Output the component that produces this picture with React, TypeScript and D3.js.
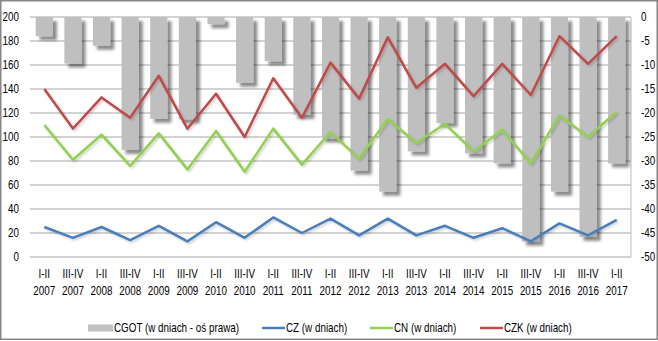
import type { ReactNode } from "react"
import { scaleBand, scaleLinear, line } from "d3"

const PERIODS = ["I-II", "III-IV", "I-II", "III-IV", "I-II", "III-IV", "I-II", "III-IV", "I-II", "III-IV", "I-II", "III-IV", "I-II", "III-IV", "I-II", "III-IV", "I-II", "III-IV", "I-II", "III-IV", "I-II"]
const YEARS = ["2007", "2007", "2008", "2008", "2009", "2009", "2010", "2010", "2011", "2011", "2012", "2012", "2013", "2013", "2014", "2014", "2015", "2015", "2016", "2016", "2017"]

// CGOT on the right axis (negative days)
const CGOT = [-4, -9.7, -6, -27.7, -21.2, -21.3, -1.5, -13.7, -9.2, -20.4, -25.3, -32, -36.4, -28, -22.1, -28.4, -30.5, -46.8, -36.4, -45.8, -30.5]
const CZ = [25, 16, 25, 14, 26, 13, 29, 16, 33, 20, 32, 18, 32, 18, 26, 16, 24, 13, 28, 18, 31]
const CN = [110, 81, 102, 76, 103, 73, 105, 71, 107, 77, 104, 82, 115, 95, 111, 88, 106, 78, 118, 100, 121]
const CZK = [140, 107, 133, 116, 151, 107, 136, 100, 149, 116, 162, 132, 183, 141, 161, 134, 161, 135, 184, 161, 184]

const LEFT_TICKS = [0, 20, 40, 60, 80, 100, 120, 140, 160, 180, 200]
const RIGHT_TICKS = [0, -5, -10, -15, -20, -25, -30, -35, -40, -45, -50]

const W = 658
const H = 341
const FONT = "'Liberation Sans', Arial, sans-serif"

const margin = { top: 17, right: 27, bottom: 84, left: 30 }

// Liberation Sans squeezed horizontally, close to the narrow font of the original
function NText({ x, y, anchor = "start", children }: { x: number; y: number; anchor?: "start" | "middle" | "end"; children: ReactNode }) {
  return (
    <text transform={`translate(${x},${y}) scale(0.82,1)`} textAnchor={anchor} dy="0.35em" fontSize={12} fill="#000">
      {children}
    </text>
  )
}

export default function App() {
  const innerW = W - margin.left - margin.right
  const innerH = H - margin.top - margin.bottom

  const keys = PERIODS.map((_, i) => String(i))
  const x = scaleBand().domain(keys).range([margin.left, margin.left + innerW]).paddingInner(0.4).paddingOuter(0.2)
  const yL = scaleLinear().domain([0, 200]).range([margin.top + innerH, margin.top])
  const yR = scaleLinear().domain([-50, 0]).range([margin.top + innerH, margin.top])

  const cx = (i: number) => x(String(i))! + x.bandwidth() / 2
  const mkLine = line<number>().x((_, i) => cx(i)).y((d) => yL(d))

  const series = [
    { name: "CZ (w dniach)", data: CZ, color: "#4a7ebb" },
    { name: "CN (w dniach)", data: CN, color: "#92d050" },
    { name: "CZK (w dniach)", data: CZK, color: "#be4b48" },
  ]

  const legendY = 328

  return (
    <svg
      width={W}
      height={H}
      style={{ position: "absolute", left: 0, top: 0, background: "#fff" }}
      fontFamily={FONT}
    >
      <defs>
        <filter id="barShadow" x="-30%" y="-10%" width="160%" height="130%">
          <feDropShadow dx="4" dy="4" stdDeviation="1.8" floodColor="#000" floodOpacity="0.45" />
        </filter>
        <filter id="lineShadow" x="-5%" y="-20%" width="110%" height="140%">
          <feDropShadow dx="1.5" dy="1.5" stdDeviation="1" floodColor="#000" floodOpacity="0.2" />
        </filter>
      </defs>

      <rect x={0.75} y={0.75} width={W - 1.5} height={H - 2.5} fill="#fff" stroke="#868686" strokeWidth={1.5} />

      {/* grid */}
      {LEFT_TICKS.map((t) => (
        <line key={t} x1={margin.left} x2={margin.left + innerW} y1={yL(t)} y2={yL(t)} stroke="#a6a6a6" strokeWidth={1} />
      ))}
      <line x1={margin.left + innerW} x2={margin.left + innerW} y1={margin.top} y2={margin.top + innerH} stroke="#bfbfbf" strokeWidth={1} />

      {/* bars */}
      <g filter="url(#barShadow)">
        {CGOT.map((v, i) => (
          <rect key={i} x={x(String(i))} y={yR(0)} width={x.bandwidth()} height={yR(v) - yR(0)} fill="#bfbfbf" />
        ))}
      </g>

      {/* lines */}
      {series.map((s) => (
        <path key={s.name} d={mkLine(s.data)!} fill="none" stroke={s.color} strokeWidth={2.5} strokeLinejoin="round" filter="url(#lineShadow)" />
      ))}

      {/* left axis labels */}
      {LEFT_TICKS.map((t) => (
        <NText key={t} x={19} y={yL(t)} anchor="end">{t}</NText>
      ))}

      {/* right axis labels */}
      {RIGHT_TICKS.map((t) => (
        <NText key={t} x={641} y={yR(t)}>{t}</NText>
      ))}

      {/* x labels */}
      {PERIODS.map((p, i) => (
        <g key={i}>
          <NText x={cx(i)} y={274} anchor="middle">{p}</NText>
          <NText x={cx(i)} y={291} anchor="middle">{YEARS[i]}</NText>
        </g>
      ))}

      {/* legend */}
      <rect x={88} y={legendY - 3.5} width={25} height={7} fill="#bfbfbf" />
      <NText x={114} y={legendY}>CGOT (w dniach - oś prawa)</NText>
      {[
        { x0: 262, ...series[0] },
        { x0: 370, ...series[1] },
        { x0: 480, ...series[2] },
      ].map((s) => (
        <g key={s.name}>
          <line x1={s.x0} x2={s.x0 + 23} y1={legendY} y2={legendY} stroke={s.color} strokeWidth={2.5} />
          <NText x={s.x0 + 24} y={legendY}>{s.name}</NText>
        </g>
      ))}
    </svg>
  )
}
